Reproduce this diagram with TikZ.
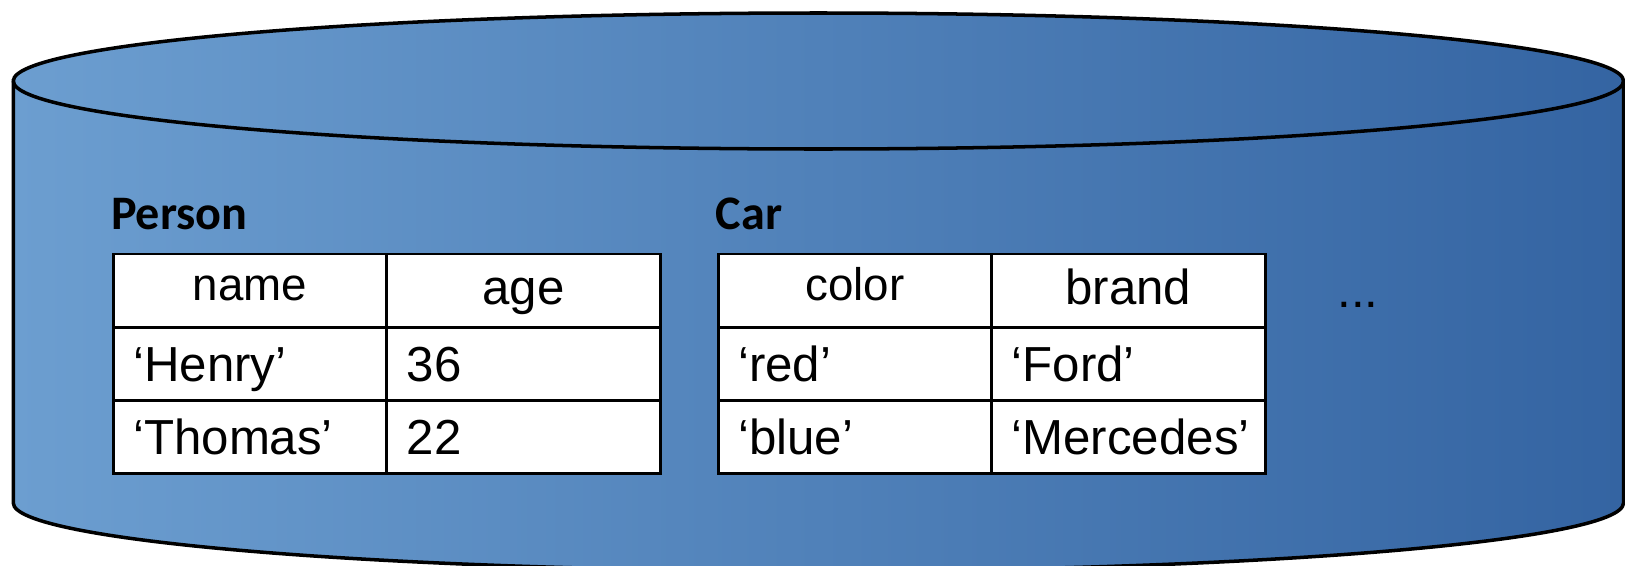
\documentclass[tikz,border=0pt]{standalone}
\usepackage{fontspec}
\setmainfont{Liberation Sans}
\newfontfamily\labelfont{Carlito}
\usepackage{tikz}
\usetikzlibrary{positioning}

\definecolor{cylLeft}{RGB}{108,158,208}
\definecolor{cylRight}{RGB}{52,100,162}

\begin{document}
\begin{tikzpicture}[
        cyl/.style={draw=black, line width=1pt, left color=cylLeft, right color=cylRight},
        cell/.style={draw=black, line width=0.85pt, fill=white, minimum width=2.735cm, minimum height=0.733cm, inner sep=0pt, outer sep=0pt, text depth=0pt},
        head/.style={cell, font=\fontsize{14pt}{16pt}\selectfont, text height=0.286cm},
        headsmall/.style={cell, font=\fontsize{13pt}{15pt}\selectfont, text height=0.206cm},
        entry/.style={cell, font=\fontsize{14pt}{16pt}\selectfont, text height=0.354cm, text width=2.335cm, align=left, inner xsep=0.2cm},
        tabname/.style={anchor=base west, inner sep=0pt, font=\labelfont\bfseries\fontsize{13.7pt}{15pt}\selectfont}
    ]
        \useasboundingbox (0, 0) rectangle (16.25, 5.65);
        \clip (0, 0) rectangle (16.25, 5.65);

        \draw[cyl] (0.133, 4.84) -- (0.133, 0.62) arc[start angle=180, end angle=360, x radius=8.051cm, y radius=0.68cm] -- (16.235, 4.84) arc[start angle=0, end angle=180, x radius=8.051cm, y radius=0.68cm] -- cycle;
        \draw[black, line width=1pt] (0.133, 4.84) arc[start angle=180, end angle=360, x radius=8.051cm, y radius=0.68cm];

        \begin{scope}[shift={(1.133, 3.11)}]
            \node (p0) at (-0.03, 0.25)[tabname] {Person};

            \node (p1) at (1.3675, -0.3665)[headsmall] {name};
            \node (p2) at (4.1025, -0.3665)[head] {age};

            \node (p3) at (1.3675, -1.0995)[entry] {‘Henry’};
            \node (p4) at (4.1025, -1.0995)[entry] {36};

            \node (p5) at (1.3675, -1.8325)[entry] {‘Thomas’};
            \node (p6) at (4.1025, -1.8325)[entry] {22};
        \end{scope}

        \begin{scope}[shift={(7.182, 3.11)}]
            \node (c0) at (-0.03, 0.25)[tabname] {Car};

            \node (c1) at (1.3675, -0.3665)[headsmall] {color};
            \node (c2) at (4.1025, -0.3665)[head] {brand};

            \node (c3) at (1.3675, -1.0995)[entry] {‘red’};
            \node (c4) at (4.1025, -1.0995)[entry] {‘Ford’};

            \node (c5) at (1.3675, -1.8325)[entry] {‘blue’};
            \node (c6) at (4.1025, -1.8325)[entry] {‘Mercedes’};
        \end{scope}

        \node (more) at (13.58, 2.58)[anchor=base, inner sep=0pt, font=\fontsize{14pt}{16pt}\selectfont] {...};
    \end{tikzpicture}
\end{document}
